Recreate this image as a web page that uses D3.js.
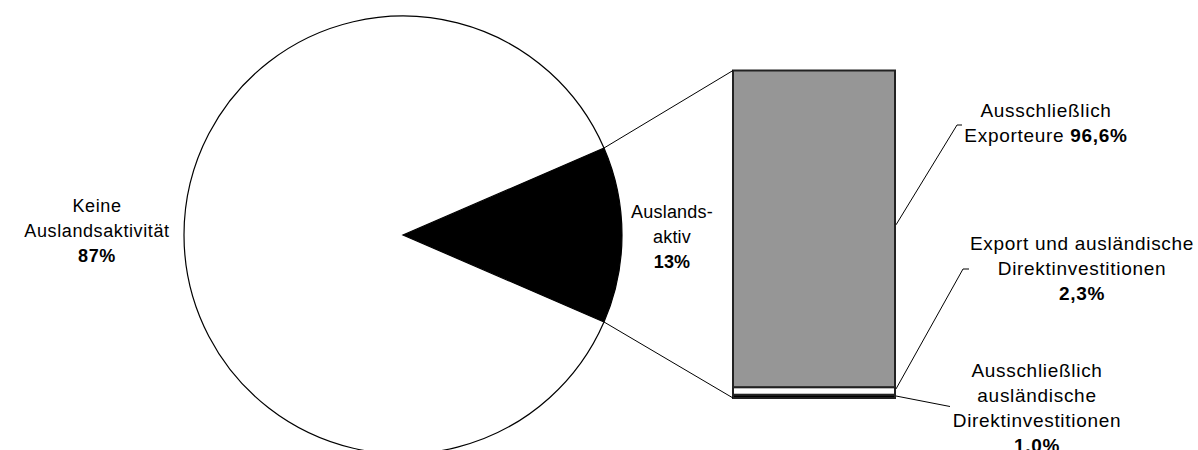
<!DOCTYPE html>
<html>
<head>
<meta charset="utf-8">
<script src="https://cdn.jsdelivr.net/npm/d3@7"></script>
<style>
  html, body { margin: 0; padding: 0; background: #fff; }
  svg { display: block; }
  text { font-family: "Liberation Sans", Arial, sans-serif; font-size: 18px; fill: #000; }
</style>
</head>
<body>
<svg id="chart" width="1198" height="450"></svg>
<script>
// ---- data ----
const pieCategories = ["Auslandsaktiv", "Keine Auslandsaktivität"];
const pieValues = [13, 87];
const barCategories = ["Ausschließlich ausländische Direktinvestitionen", "Export und ausländische Direktinvestitionen", "Ausschließlich Exporteure"];
const barValues = [1.0, 2.3, 96.6];
const pieColors = ["#000000", "#ffffff"];
const barColors = ["#000000", "#ffffff", "#969696"];

const svg = d3.select("#chart");

// ---- pie ----
const cx = 403, cy = 235, R = 219;
const total = d3.sum(pieValues);
const activeSpan = 2 * Math.PI * pieValues[0] / total;
const pie = d3.pie().sort(null).value(d => d)
  .startAngle(Math.PI / 2 - activeSpan / 2)
  .endAngle(Math.PI / 2 - activeSpan / 2 + 2 * Math.PI);
const arcs = pie(pieValues);
const arc = d3.arc().innerRadius(0).outerRadius(R);
const gPie = svg.append("g").attr("transform", `translate(${cx},${cy})`);
gPie.selectAll("path").data(arcs).join("path")
  .attr("d", arc)
  .attr("fill", (d, i) => pieColors[i])
  .attr("stroke", "#000")
  .attr("stroke-width", 1.2);

// ---- bar ----
const barX0 = 733, barX1 = 895;
const y = d3.scaleLinear().domain([0, d3.sum(barValues)]).range([398, 70.5]);
const stacked = [];
let acc = 0;
barValues.forEach((v, i) => { stacked.push({ v, i, y0: acc, y1: acc + v }); acc += v; });
const gBar = svg.append("g");
gBar.selectAll("rect").data(stacked).join("rect")
  .attr("x", barX0)
  .attr("width", barX1 - barX0)
  .attr("y", d => y(d.y1))
  .attr("height", d => y(d.y0) - y(d.y1))
  .attr("fill", d => barColors[d.i])
  .attr("stroke", "#222")
  .attr("stroke-width", 2);

// ---- connector lines pie -> bar ----
const a0 = arcs[0].startAngle, a1 = arcs[0].endAngle;
const pt = a => [cx + R * Math.sin(a), cy - R * Math.cos(a)];
const pTop = pt(a0), pBot = pt(a1);
svg.append("line").attr("x1", pTop[0]).attr("y1", pTop[1]).attr("x2", barX0).attr("y2", y(acc))
  .attr("stroke", "#000").attr("stroke-width", 1);
svg.append("line").attr("x1", pBot[0]).attr("y1", pBot[1]).attr("x2", barX0).attr("y2", y(0))
  .attr("stroke", "#000").attr("stroke-width", 1);

// ---- leader lines for bar labels ----
const leaders = [
  { pts: [[barX1 + 1, (y(stacked[2].y0) + y(stacked[2].y1)) / 2 - 4], [957, 125], [962, 125]] },
  { pts: [[barX1 + 1, (y(stacked[1].y0) + y(stacked[1].y1)) / 2 - 2], [963, 269], [969, 269]] },
  { pts: [[barX1 + 1, y(stacked[0].y0) - 2], [950, 406.5]] }
];
leaders.forEach(l => {
  svg.append("path").attr("d", d3.line()(l.pts)).attr("fill", "none")
    .attr("stroke", "#000").attr("stroke-width", 1);
});

// ---- labels ----
function label(x, yy, lines, size, ls) {
  const t = svg.append("text").attr("text-anchor", "middle").attr("x", x).attr("y", yy)
    .style("font-size", size + "px").style("letter-spacing", ls + "px");
  lines.forEach((ln, k) => {
    const ts = t.append("tspan").attr("x", x).attr("dy", k === 0 ? 0 : 25);
    ln.forEach(part => {
      ts.append("tspan").text(part.t).attr("font-weight", part.b ? "bold" : null);
    });
  });
}
const fmt = v => v.toFixed(1).replace(".", ",") + "%";
label(97, 212, [[{ t: "Keine" }], [{ t: "Auslandsaktivität" }], [{ t: pieValues[1] + "%", b: true }]], 18, 0.6);
label(672, 218, [[{ t: "Auslands-" }], [{ t: "aktiv" }], [{ t: pieValues[0] + "%", b: true }]], 18, 0.2);
label(1046, 117, [[{ t: "Ausschließlich" }], [{ t: "Exporteure " }, { t: fmt(barValues[2]), b: true }]], 19, 0.7);
label(1082, 250, [[{ t: "Export und ausländische" }], [{ t: "Direktinvestitionen" }], [{ t: fmt(barValues[1]), b: true }]], 19, 0.7);
label(1037, 377, [[{ t: "Ausschließlich" }], [{ t: "ausländische" }], [{ t: "Direktinvestitionen" }], [{ t: fmt(barValues[0]), b: true }]], 19, 0.7);
</script>
</body>
</html>
